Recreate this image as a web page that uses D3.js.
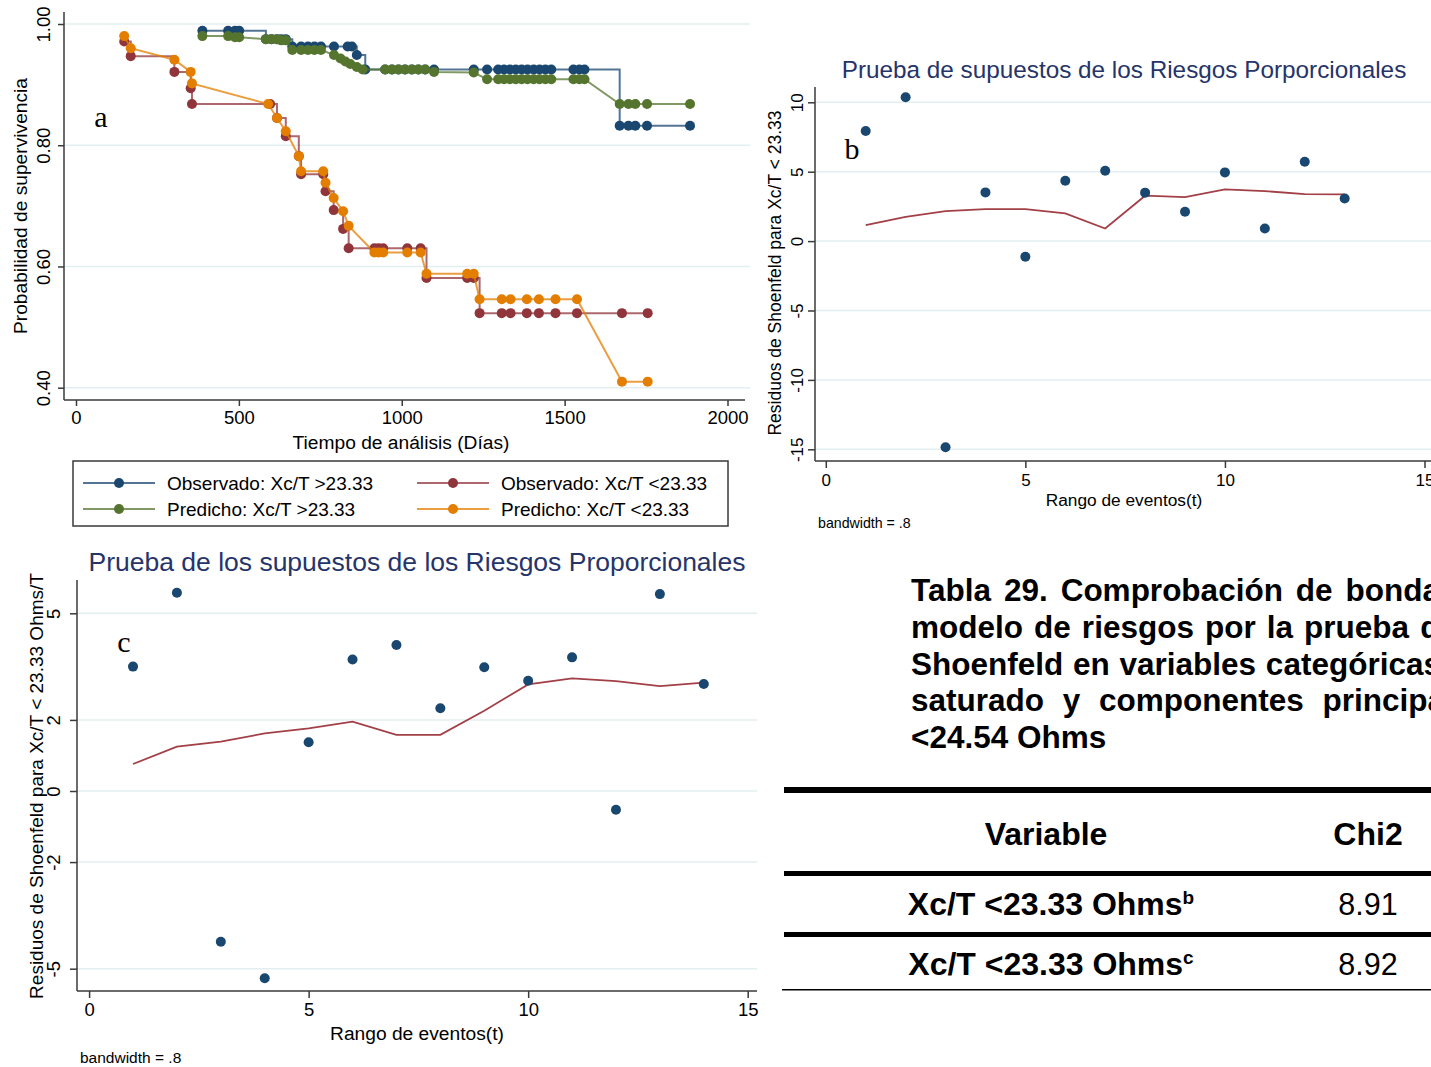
<!DOCTYPE html>
<html>
<head>
<meta charset="utf-8">
<script src="https://cdn.jsdelivr.net/npm/d3@7"></script>
<style>
  body { margin: 0; background: #fff; }
  svg text { font-family: "Liberation Sans", Arial, sans-serif; }
</style>
</head>
<body>
<svg id="fig" width="1431" height="1067"></svg>
<script>
// ---- panel a: Kaplan-Meier observed vs Cox predicted (days, survival)
const obsHigh = [
  [388,0.989],[467,0.989],[488,0.989],[501,0.989],
  [583,0.975],[600,0.975],[617,0.975],[630,0.975],[644,0.975],
  [664,0.963],[691,0.963],[712,0.963],[732,0.963],[752,0.963],[792,0.963],[834,0.963],[847,0.963],
  [862,0.949],
  [888,0.925],[949,0.925],[970,0.925],[990,0.925],[1010,0.925],[1031,0.925],[1051,0.925],[1072,0.925],[1099,0.925],
  [1221,0.925],[1262,0.925],[1296,0.925],[1314,0.925],[1332,0.925],[1350,0.925],[1368,0.925],[1386,0.925],
  [1405,0.925],[1423,0.925],[1441,0.925],[1459,0.925],[1527,0.925],[1545,0.925],[1561,0.925],
  [1669,0.832],[1696,0.832],[1717,0.832],[1753,0.832],[1885,0.832]
];
const obsLow = [
  [148,0.971],[168,0.947],[302,0.921],[352,0.894],[356,0.868],[596,0.868],[617,0.845],[644,0.815],
  [684,0.782],[691,0.752],[759,0.752],[766,0.724],[791,0.693],[820,0.662],[837,0.630],[916,0.630],
  [929,0.630],[943,0.630],[1017,0.630],[1058,0.630],[1076,0.581],[1201,0.581],[1221,0.581],[1239,0.523],
  [1307,0.523],[1334,0.523],[1384,0.523],[1421,0.523],[1472,0.523],[1538,0.523],[1676,0.523],[1755,0.523]
];
const predHigh = [
  [388,0.980],[467,0.980],[488,0.978],[501,0.978],
  [583,0.975],[600,0.975],[617,0.975],[630,0.973],[644,0.973],
  [664,0.957],[691,0.957],[712,0.957],[732,0.957],[752,0.957],
  [792,0.949],[812,0.943],[827,0.938],[842,0.934],[862,0.929],[880,0.925],
  [949,0.925],[970,0.925],[990,0.925],[1010,0.925],[1031,0.925],[1051,0.925],[1072,0.925],[1099,0.921],
  [1221,0.920],[1262,0.909],[1296,0.909],[1314,0.909],[1332,0.909],[1350,0.909],[1368,0.909],[1386,0.909],
  [1405,0.909],[1423,0.909],[1441,0.909],[1459,0.909],[1527,0.909],[1545,0.909],[1561,0.909],
  [1669,0.868],[1696,0.868],[1717,0.868],[1753,0.868],[1885,0.868]
];
const predLow = [
  [148,0.980],[168,0.960],[302,0.941],[352,0.921],[356,0.902],[590,0.868],[617,0.845],[644,0.823],
  [684,0.782],[691,0.757],[759,0.757],[766,0.738],[791,0.713],[820,0.691],[837,0.667],[916,0.623],
  [929,0.623],[943,0.623],[1017,0.623],[1058,0.623],[1076,0.588],[1201,0.588],[1221,0.588],[1239,0.546],
  [1307,0.546],[1334,0.546],[1384,0.546],[1421,0.546],[1472,0.546],[1538,0.546],[1676,0.410],[1755,0.410]
];
const kmLabels = ['Observado: Xc/T >23.33', 'Observado: Xc/T <23.33', 'Predicho: Xc/T >23.33', 'Predicho: Xc/T <23.33'];
const kmXTicks = [0, 500, 1000, 1500, 2000];
const kmYTicks = [0.4, 0.6, 0.8, 1.0];

// ---- panel b: Schoenfeld residuals, Xc/T < 23.33
const rankB = [1,2,3,4,5,6,7,8,9,10,11,12,13];
const residB = [7.93, 10.36, -14.85, 3.51, -1.13, 4.35, 5.07, 3.49, 2.12, 4.95, 0.91, 5.72, 3.07];
const smoothB = [1.15, 1.75, 2.16, 2.31, 2.31, 2.0, 0.91, 3.27, 3.17, 3.72, 3.6, 3.39, 3.37];
const yTicksB = [-15, -10, -5, 0, 5, 10];

// ---- panel c: Schoenfeld residuals, Xc/T < 23.33 Ohms/T
const rankC = [1,2,3,4,5,6,7,8,9,10,11,12,13,14];
const residC = [3.50, 5.58, -4.24, -5.27, 1.37, 3.70, 4.11, 2.33, 3.48, 3.10, 3.76, -0.53, 5.54, 3.01];
const smoothC = [0.76, 1.25, 1.39, 1.62, 1.76, 1.95, 1.58, 1.58, 2.26, 3.00, 3.17, 3.09, 2.95, 3.05];
const yTicksC = [-5, -2, 0, 2, 5];
const xTicksRank = [0, 5, 10, 15];

// ---- table
const tableTitle = [
  'Tabla 29. Comprobación de bondad de ajuste del',
  'modelo de riesgos por la prueba de residuos de',
  'Shoenfeld en variables categóricas del modelo',
  'saturado y componentes principales Xc/T',
  '<24.54 Ohms'
];
const tableHead = ['Variable', 'Chi2'];
const tableVars = ['Xc/T <23.33 Ohms', 'Xc/T <23.33 Ohms'];
const tableMarks = ['b', 'c'];
const tableChi2 = ['8.91', '8.92'];

const navy = '#1a476f', maroon = '#90353b', green = '#55752f', orange = '#e37e00';
const gridColor = '#e3eef0', axisColor = '#3a3a3a', titleColor = '#26346a';

const svg = d3.select('#fig');
svg.append('rect').attr('width', 1431).attr('height', 1067).attr('fill', '#fff');

const rotLabels = (g, off, size) => {
  g.select('.domain').remove();
  g.attr('font-size', null).attr('font-family', null);
  g.selectAll('.tick line').attr('stroke', axisColor).attr('stroke-width', 1.5);
  g.selectAll('.tick text')
    .attr('transform', 'rotate(-90)')
    .attr('x', 0).attr('y', -off).attr('dy', 0)
    .attr('text-anchor', 'middle')
    .attr('fill', '#000')
    .style('font-size', size + 'px');
};
const bottomLabels = (g, off, size) => {
  g.select('.domain').remove();
  g.attr('font-size', null).attr('font-family', null);
  g.selectAll('.tick line').attr('stroke', axisColor).attr('stroke-width', 1.5);
  g.selectAll('.tick text').attr('y', off).attr('dy', '0.35em')
    .attr('fill', '#000').style('font-size', size + 'px');
};

// ================= panel a
const xA = d3.scaleLinear().domain([0, 2000]).range([76, 727.5]);
const yA = d3.scaleLinear().domain([0.4, 1]).range([387.7, 24]);
const gA = svg.append('g');

gA.selectAll('.gridA').data(kmYTicks).enter().append('line')
  .attr('x1', 64).attr('x2', 750)
  .attr('y1', d => yA(d)).attr('y2', d => yA(d))
  .attr('stroke', gridColor).attr('stroke-width', 1.5);

const kmSeries = [
  { data: obsHigh, color: navy, step: true },
  { data: obsLow, color: maroon, step: true },
  { data: predHigh, color: green, step: false },
  { data: predLow, color: orange, step: false }
];

kmSeries.forEach(s => {
  const line = d3.line()
    .x(d => xA(d[0])).y(d => yA(d[1]))
    .curve(s.step ? d3.curveStepAfter : d3.curveLinear);
  gA.append('path')
    .attr('d', line(s.data))
    .attr('fill', 'none')
    .attr('stroke', s.color)
    .attr('stroke-width', 2)
    .attr('stroke-opacity', 0.75);
  gA.selectAll(null).data(s.data).enter().append('circle')
    .attr('cx', d => xA(d[0])).attr('cy', d => yA(d[1]))
    .attr('r', 5).attr('fill', s.color);
});

gA.append('line').attr('x1', 64).attr('x2', 64).attr('y1', 12).attr('y2', 400)
  .attr('stroke', axisColor).attr('stroke-width', 1.5);
gA.append('line').attr('x1', 64).attr('x2', 745).attr('y1', 400).attr('y2', 400)
  .attr('stroke', axisColor).attr('stroke-width', 1.5);

gA.append('g').attr('transform', 'translate(64,0)')
  .call(d3.axisLeft(yA).tickValues(kmYTicks).tickFormat(d3.format('.2f')).tickSize(6))
  .call(g => rotLabels(g, 14, 18.5));
gA.append('g').attr('transform', 'translate(0,400)')
  .call(d3.axisBottom(xA).tickValues(kmXTicks).tickFormat(d => String(d)).tickSize(6))
  .call(g => bottomLabels(g, 18, 18.5));

gA.append('text').attr('x', 401).attr('y', 442).attr('dy', '0.35em')
  .attr('text-anchor', 'middle').style('font-size', '19.2px')
  .text('Tiempo de análisis (Días)');
gA.append('text').attr('transform', 'translate(20,206) rotate(-90)')
  .attr('dy', '0.35em').attr('text-anchor', 'middle').style('font-size', '19.2px')
  .text('Probabilidad de supervivencia');
gA.append('text').attr('x', 101).attr('y', 116).attr('dy', '0.35em')
  .attr('text-anchor', 'middle')
  .style('font-family', '"Liberation Serif", "DejaVu Serif", serif').style('font-size', '30px')
  .text('a');

// legend
const leg = gA.append('g');
leg.append('rect').attr('x', 73).attr('y', 461).attr('width', 655).attr('height', 65)
  .attr('fill', '#fff').attr('stroke', axisColor).attr('stroke-width', 1.5);
kmSeries.forEach((s, i) => {
  const lx = i % 2 === 0 ? 83 : 417;
  const ly = i < 2 ? 483 : 509;
  leg.append('line').attr('x1', lx).attr('x2', lx + 72).attr('y1', ly).attr('y2', ly)
    .attr('stroke', s.color).attr('stroke-width', 2).attr('stroke-opacity', 0.75);
  leg.append('circle').attr('cx', lx + 36).attr('cy', ly).attr('r', 5).attr('fill', s.color);
  leg.append('text').attr('x', lx + 84).attr('y', ly).attr('dy', '0.35em')
    .style('font-size', '19px').text(kmLabels[i]);
});

// ================= panels b and c
const drawResid = cfg => {
  const g = svg.append('g');
  const x = d3.scaleLinear().domain([0, 15]).range(cfg.xRange);
  const y = d3.scaleLinear().domain(cfg.yDomain).range(cfg.yRange);

  g.selectAll(null).data(cfg.yTicks).enter().append('line')
    .attr('x1', cfg.left).attr('x2', cfg.right)
    .attr('y1', d => y(d)).attr('y2', d => y(d))
    .attr('stroke', gridColor).attr('stroke-width', 1.5);

  const pts = cfg.rank.map((r, i) => ({ r, v: cfg.resid[i], s: cfg.smooth[i] }));

  g.append('path')
    .attr('d', d3.line().x(d => x(d.r)).y(d => y(d.s))(pts))
    .attr('fill', 'none').attr('stroke', '#a33f47').attr('stroke-width', 1.8);

  g.selectAll(null).data(pts).enter().append('circle')
    .attr('cx', d => x(d.r)).attr('cy', d => y(d.v))
    .attr('r', 5).attr('fill', navy);

  g.append('line').attr('x1', cfg.left).attr('x2', cfg.left).attr('y1', cfg.top).attr('y2', cfg.bottom)
    .attr('stroke', axisColor).attr('stroke-width', 1.5);
  g.append('line').attr('x1', cfg.left).attr('x2', cfg.right).attr('y1', cfg.bottom).attr('y2', cfg.bottom)
    .attr('stroke', axisColor).attr('stroke-width', 1.5);

  // plain hyphen minus, as in the reference
  g.append('g').attr('transform', `translate(${cfg.left},0)`)
    .call(d3.axisLeft(y).tickValues(cfg.yTicks).tickFormat(d => String(d)).tickSize(7))
    .call(a => rotLabels(a, cfg.yLabOff, cfg.tickSize));
  g.append('g').attr('transform', `translate(0,${cfg.bottom})`)
    .call(d3.axisBottom(x).tickValues(xTicksRank).tickFormat(d => String(d)).tickSize(7))
    .call(a => bottomLabels(a, cfg.xLabOff, cfg.tickSize));

  g.append('text').attr('x', cfg.titleX).attr('y', cfg.titleY).attr('dy', '0.35em')
    .attr('text-anchor', 'middle').attr('fill', titleColor)
    .style('font-size', cfg.titleSize + 'px').text(cfg.title);
  g.append('text').attr('x', cfg.xTitleX).attr('y', cfg.xTitleY).attr('dy', '0.35em')
    .attr('text-anchor', 'middle').style('font-size', cfg.labSize + 'px')
    .text('Rango de eventos(t)');
  g.append('text').attr('transform', `translate(${cfg.yTitleX},${cfg.yTitleY}) rotate(-90)`)
    .attr('dy', '0.35em').attr('text-anchor', 'middle').style('font-size', cfg.yLabSize + 'px')
    .text(cfg.yTitle);
  g.append('text').attr('x', cfg.bwX).attr('y', cfg.bwY).attr('dy', '0.35em')
    .style('font-size', cfg.bwSize + 'px').text('bandwidth = .8');
  g.append('text').attr('x', cfg.tagX).attr('y', cfg.tagY).attr('dy', '0.35em')
    .attr('text-anchor', 'middle')
    .style('font-family', '"Liberation Serif", "DejaVu Serif", serif').style('font-size', '30px')
    .text(cfg.tag);
};

drawResid({
  rank: rankB, resid: residB, smooth: smoothB, yTicks: yTicksB,
  yDomain: [-15, 10], yRange: [449.3, 102.3], xRange: [825.8, 1424.5],
  left: 815, right: 1431, top: 87, bottom: 461,
  yLabOff: 12, xLabOff: 19, tickSize: 17,
  title: 'Prueba de supuestos de los Riesgos Porporcionales', titleX: 1124, titleY: 69, titleSize: 24.3,
  xTitleX: 1124, xTitleY: 500, labSize: 17.3,
  yTitle: 'Residuos de Shoenfeld para Xc/T < 23.33', yTitleX: 775, yTitleY: 273, yLabSize: 17.5,
  bwX: 818, bwY: 523, bwSize: 14.2,
  tag: 'b', tagX: 852, tagY: 148
});

drawResid({
  rank: rankC, resid: residC, smooth: smoothC, yTicks: yTicksC,
  yDomain: [-5, 5], yRange: [968.7, 613.3], xRange: [89.1, 747.7],
  left: 77, right: 757, top: 580, bottom: 991,
  yLabOff: 17, xLabOff: 19, tickSize: 18.5,
  title: 'Prueba de los supuestos de los Riesgos Proporcionales', titleX: 417, titleY: 562, titleSize: 26.5,
  xTitleX: 417, xTitleY: 1033, labSize: 19.2,
  yTitle: 'Residuos de Shoenfeld para Xc/T < 23.33 Ohms/T', yTitleX: 36, yTitleY: 786, yLabSize: 19,
  bwX: 80, bwY: 1058, bwSize: 15.5,
  tag: 'c', tagX: 124, tagY: 641
});

// ================= table (justified caption runs past the right page edge, as in the source)
const tb = svg.append('g');
const titleSpacing = [4.2, 2.3, 1, 10, 0];
tableTitle.forEach((t, i) => {
  tb.append('text').attr('x', 911).attr('y', 590 + i * 36.8).attr('dy', '0.35em')
    .style('font-size', '31.5px').style('font-weight', 'bold')
    .style('word-spacing', titleSpacing[i] + 'px')
    .text(t);
});
tb.append('rect').attr('x', 784).attr('y', 787).attr('width', 647).attr('height', 6).attr('fill', '#000');
tb.append('rect').attr('x', 784).attr('y', 871).attr('width', 647).attr('height', 5).attr('fill', '#000');
tb.append('rect').attr('x', 784).attr('y', 932).attr('width', 647).attr('height', 5).attr('fill', '#000');
tb.append('rect').attr('x', 782).attr('y', 989).attr('width', 649).attr('height', 1.5).attr('fill', '#000');

tb.append('text').attr('x', 1046).attr('y', 834).attr('dy', '0.35em').attr('text-anchor', 'middle')
  .style('font-size', '32px').style('font-weight', 'bold').text(tableHead[0]);
tb.append('text').attr('x', 1368).attr('y', 834).attr('dy', '0.35em').attr('text-anchor', 'middle')
  .style('font-size', '32px').style('font-weight', 'bold').text(tableHead[1]);

tableVars.forEach((v, i) => {
  const ry = 904 + i * 60;
  const t = tb.append('text').attr('x', 1051).attr('y', ry).attr('dy', '0.35em')
    .attr('text-anchor', 'middle').style('font-size', '32px').style('font-weight', 'bold');
  t.append('tspan').text(v);
  t.append('tspan').attr('dy', -11).style('font-size', '19px').text(tableMarks[i]);
  tb.append('text').attr('x', 1368).attr('y', ry).attr('dy', '0.35em').attr('text-anchor', 'middle')
    .style('font-size', '30.5px').text(tableChi2[i]);
});
</script>
</body>
</html>
